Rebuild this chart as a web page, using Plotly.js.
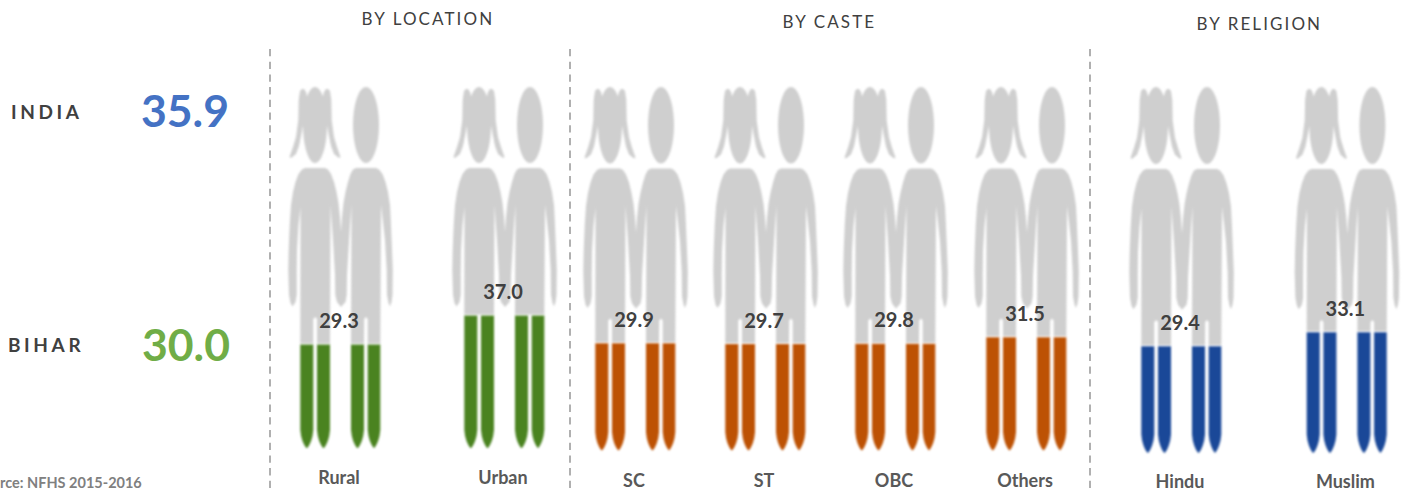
<!DOCTYPE html>
<html>
<head>
<meta charset="utf-8">
<script src="https://cdn.plot.ly/plotly-3.0.1.min.js"></script>
<style>
html,body{margin:0;padding:0;background:#fff;overflow:hidden}
#chart{width:1415px;height:493px}
.annotation[data-index="0"] text,.annotation[data-index="1"] text,.annotation[data-index="2"] text{letter-spacing:2.1px}
.annotation[data-index="3"] text,.annotation[data-index="4"] text{letter-spacing:3.6px}
.scatterlayer .js-fill{filter:blur(1px)}
</style>
</head>
<body>
<div id="chart"></div>
<script>
// ---- data ----
const categories = ["Rural","Urban","SC","ST","OBC","Others","Hindu","Muslim"];
const values = [29.3,37.0,29.9,29.7,29.8,31.5,29.4,33.1];
const groups = ["location","location","caste","caste","caste","caste","religion","religion"];
const groupTitles = ["BY LOCATION","BY CASTE","BY RELIGION"];
const summaryNames = ["INDIA","BIHAR"];
const summaryValues = [35.9,30.0];
const sourceNote = "rce: NFHS 2015-2016";

// ---- layout constants ----
const W = 1415, H = 493, PX_PER_UNIT = 3.77, ZERO_PX = 455;
const pairShift = [0,164,295,425,555,686,841,1006.4];
const groupColor = {location:"#4A8320",caste:"#BD5204",religion:"#1A4898"};
const groupDrop = {location:0,caste:1,religion:2};
const groupStretch = {location:1,caste:1.0064,religion:1.013};
const categoryLabelPx = {location:479.5,caste:482.5,religion:483.5};
const valueLabelCenter = 339;
const dividers = [270,570,1090];
const GREY = "#CFCFCF", INK = "#404040", FONT = "Lato, Carlito, 'Open Sans', sans-serif";

const pxToY = p => (ZERO_PX - p) / PX_PER_UNIT;

// silhouette glyph, in the pixel frame of the first pair
const headGirl = {cx:315,cy:125,rx:12,ry:38}, headBoy = {cx:366,cy:125,rx:13,ry:38};
const pigtail = [[302,89],[300,91],[298.7,100],[298.3,120],[296,137],[293,147],[289.5,157],[291,158],[296,154],[299,146],[301,136],[304,120],[308,100],[306,92],[304,89]];
const upperOutline = [[305,168],[325,168],[328,169.5],[331,174],[334,182],[336.5,192],[338.5,203],[340,217],[341,232],[342,217],[343.5,203],[345.5,192],[348,182],[350.5,174],[353,169.5],[356,168],[376,168],[379,169.5],[382.5,174],[385.5,182],[388,192],[390,205],[391,225],[392,250],[392.8,270],[392.5,295],[391.5,302],[390,306.5],[388.5,303],[387,295],[386.7,270],[385,240],[383,222],[381,205]];
const middleArm = [[351.5,205],[350,225],[348.5,250],[347,275],[346.7,295],[345.5,302],[341,307],[337,302],[335.3,295],[335,275],[333,240],[331,212],[330.5,205]];
const leftArm = [[300.5,207],[298.5,225],[297,250],[296.7,275],[296.7,295],[295.5,302],[292.5,306.5],[290.5,303],[289,295],[288.3,270],[288.7,250],[289.7,225],[291,205],[293,192],[295.5,182],[298.5,174],[302,169.5]];
const legSpans = [[300.3,313.3],[317,330],[351,364],[367.7,380.3]];
const tipProfile = [[0,430],[0.8,436],[2.2,441],[4,445],[6,448]];

function ellipsePoints(h){
  const pts=[];
  for(let i=0;i<=36;i++){const t=i/36*2*Math.PI;pts.push([h.cx+h.rx*Math.cos(t),h.cy+h.ry*Math.sin(t)]);}
  return pts;
}

function figureTrace(i){
  const g = groups[i], dx = pairShift[i], k = groupStretch[g];
  const levelY = values[i] - groupDrop[g]/PX_PER_UNIT;
  const levelPx = ZERO_PX - levelY*PX_PER_UNIT;
  const xs=[], ys=[];
  const put = (x,p)=>{xs.push(x+dx);ys.push(pxToY(87+(p-87)*k));};
  const putLevel = (x)=>{xs.push(x+dx);ys.push(levelY+0.25);};
  const brk = ()=>{xs.push(null);ys.push(null);};
  ellipsePoints(headGirl).forEach(p=>put(p[0],p[1])); brk();
  ellipsePoints(headBoy).forEach(p=>put(p[0],p[1])); brk();
  pigtail.slice().reverse().forEach(p=>put(p[0],p[1])); brk();
  pigtail.forEach(p=>put(630-p[0],p[1])); brk();
  upperOutline.forEach(p=>put(p[0],p[1]));
  const crotch = levelPx > 319;
  putLevel(380.3);putLevel(367.7);
  if(crotch){put(367.7,319);put(366,317);put(364.2,319);putLevel(364);}
  putLevel(351);
  middleArm.forEach(p=>put(p[0],p[1]));
  putLevel(330);putLevel(317);
  if(crotch){put(317,319);put(315.2,317);put(313.3,319);putLevel(313.3);}
  putLevel(300.3);
  leftArm.forEach(p=>put(p[0],p[1]));
  return {type:"scatter",mode:"none",fill:"toself",fillcolor:GREY,x:xs,y:ys,hoverinfo:"skip",showlegend:false};
}

function legTrace(i){
  const g = groups[i], dx = pairShift[i], k = groupStretch[g];
  const levelY = values[i] - groupDrop[g]/PX_PER_UNIT;
  const xs=[], ys=[];
  legSpans.forEach(([a,b])=>{
    xs.push(a+dx,b+dx);ys.push(levelY,levelY);
    tipProfile.forEach(([d,p])=>{xs.push(b-d+dx);ys.push(pxToY(87+(p-87)*k));});
    tipProfile.slice().reverse().forEach(([d,p])=>{xs.push(a+d+dx);ys.push(pxToY(87+(p-87)*k));});
    xs.push(null);ys.push(null);
  });
  return {type:"scatter",mode:"none",fill:"toself",fillcolor:groupColor[g],x:xs,y:ys,hoverinfo:"skip",showlegend:false};
}

const traces = [];
categories.forEach((c,i)=>traces.push(figureTrace(i)));
categories.forEach((c,i)=>traces.push(legTrace(i)));
traces.push({type:"scatter",mode:"text",x:pairShift.map(d=>valueLabelCenter+d),
  y:values.map((v,i)=>v-groupDrop[groups[i]]/PX_PER_UNIT+5.7),
  text:values.map(v=>v.toFixed(1)),textposition:"middle center",
  textfont:{family:FONT,size:20,color:INK,weight:700},hoverinfo:"skip",showlegend:false});
traces.push({type:"scatter",mode:"text",x:pairShift.map(d=>valueLabelCenter+d),
  y:groups.map(g=>pxToY(categoryLabelPx[g])),text:categories,textposition:"middle center",
  textfont:{family:FONT,size:18,color:"#595959",weight:700},hoverinfo:"skip",showlegend:false});

const note = (text,x,yPx,size,color,weight,anchor)=>({text,x,y:1-yPx/H,xref:"paper",yref:"paper",
  xanchor:anchor||"center",yanchor:"middle",showarrow:false,font:{family:FONT,size,color,weight:weight||400}});

const layout = {
  width:W,height:H,margin:{l:0,r:0,t:0,b:0},paper_bgcolor:"#fff",plot_bgcolor:"#fff",showlegend:false,
  xaxis:{range:[0,W],visible:false,fixedrange:true},
  yaxis:{range:[pxToY(H),pxToY(0)],visible:false,fixedrange:true},
  shapes:dividers.map(x=>({type:"line",xref:"x",yref:"paper",x0:x,x1:x,y0:1-49/H,y1:0,
    line:{color:"#A8A8A8",width:1.8,dash:"7.3px,5.4px"}})),
  annotations:[
    note(groupTitles[0],427.5/W,19,17,INK),
    note(groupTitles[1],830/W,21,17,INK),
    note(groupTitles[2],1259/W,23,17,INK),
    note(summaryNames[0],46.5/W,111,19,INK,700),
    note(summaryNames[1],46.5/W,344,19,INK,700),
    note(summaryValues[0].toFixed(1),185/W,110,44.5,"#4472C4",700),
    note(summaryValues[1].toFixed(1),186/W,343,44.5,"#70AD47",700),
    note(sourceNote,143.5/W,482,14.5,"#808080",700,"right")
  ]
};
Plotly.newPlot("chart",traces,layout,{displayModeBar:false,staticPlot:true});
</script>
</body>
</html>
